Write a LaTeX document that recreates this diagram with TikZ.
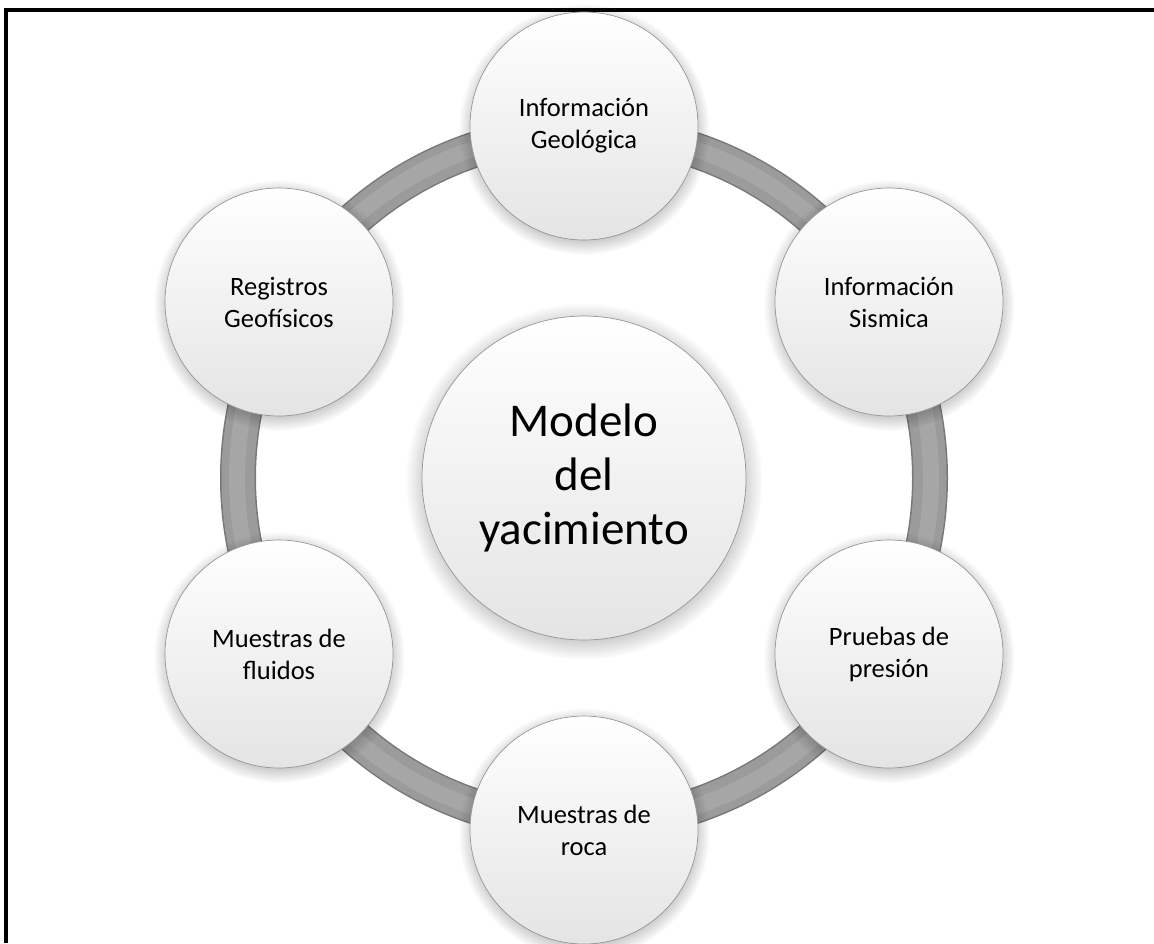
\documentclass[tikz,border=0pt]{standalone}
\usepackage{fontspec}
\setmainfont{Carlito}
\usetikzlibrary{shadows}
\definecolor{ringdark}{RGB}{120,120,120}
\definecolor{ringmid}{RGB}{155,155,155}
\definecolor{ringlight}{RGB}{166,166,166}
\definecolor{bubblebottom}{RGB}{228,228,228}
\definecolor{bubbleedge}{RGB}{150,150,150}
\begin{document}
\begin{tikzpicture}[x=1pt,y=-1pt,
  bubble/.style={circle, minimum size=228pt, inner sep=0pt, align=center,
    font=\fontsize{26.5}{32}\selectfont,
    top color=white, bottom color=bubblebottom, draw=bubbleedge, line width=0.7pt,
    circular drop shadow={shadow xshift=0pt, shadow yshift=-3pt, opacity=0.25, fill=black}},
  hub/.style={bubble, minimum size=324pt, font=\fontsize{47}{54}\selectfont},
  ringband/.style={line width=36pt, ringdark}]
\useasboundingbox (0,0) rectangle (1154,943);
\fill[white] (0,0) rectangle (1154,943);
% frame
\draw[line width=4pt] (5.5,943) -- (5.5,10) -- (1154,10);
% ring
\coordinate (c) at (584,478);
\draw[ringband] (c) circle (346);
\draw[line width=33pt, ringmid] (c) circle (346);
\draw[line width=16pt, ringlight] (c) circle (347);
% nodes
\node[hub] (hub) at (c) {Modelo\\del\\yacimiento};
\node[bubble] (geo) at (584,126) {Información\\Geológica};
\node[bubble] (sis) at (889,302) {Información\\Sismica};
\node[bubble] (pre) at (889,654) {Pruebas de\\presión};
\node[bubble] (roc) at (584,830) {Muestras de\\roca};
\node[bubble] (flu) at (279,654) {Muestras de\\fluidos};
\node[bubble] (reg) at (279,302) {Registros\\Geofísicos};
\end{tikzpicture}
\end{document}
